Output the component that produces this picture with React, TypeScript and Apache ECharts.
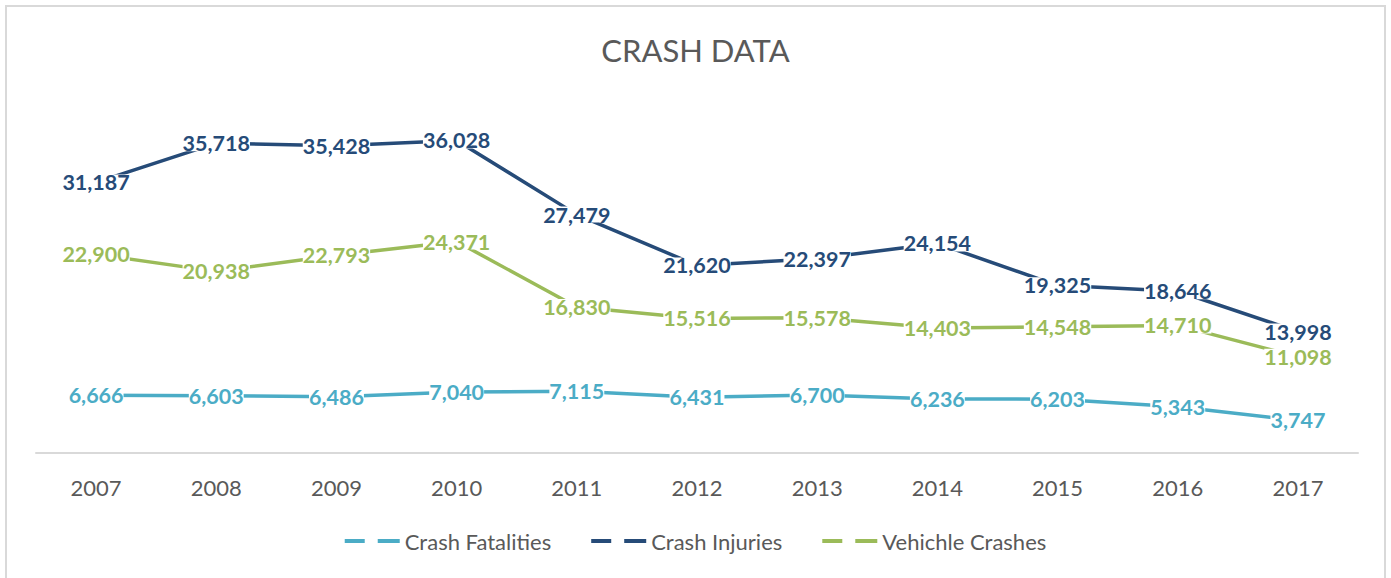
import React, { useEffect, useRef } from "react";
import * as echarts from "echarts";

const years = ["2007", "2008", "2009", "2010", "2011", "2012", "2013", "2014", "2015", "2016", "2017"];
const crashFatalities = [6666, 6603, 6486, 7040, 7115, 6431, 6700, 6236, 6203, 5343, 3747];
const crashInjuries = [31187, 35718, 35428, 36028, 27479, 21620, 22397, 24154, 19325, 18646, 13998];
const vehicleCrashes = [22900, 20938, 22793, 24371, 16830, 15516, 15578, 14403, 14548, 14710, 11098];

const FONT = "Lato, 'Open Sans', sans-serif";
const legendIcon = "path://M0,0h20v4h-20z M33,0h22v4h-22z";

function makeSeries(name: string, data: number[], color: string) {
  return {
    name,
    type: "line",
    data,
    symbol: "circle",
    symbolSize: 0,
    showSymbol: true,
    lineStyle: { color, width: 3.5 },
    itemStyle: { color },
    label: {
      show: true,
      position: "inside",
      color,
      fontFamily: FONT,
      fontWeight: "bold",
      fontSize: 21.5,
      backgroundColor: "#ffffff",
      padding: 0,
      lineHeight: 16,
      formatter: (p: any) => Number(p.value).toLocaleString("en-US"),
    },
  };
}

export default function App() {
  const ref = useRef<HTMLDivElement>(null);
  useEffect(() => {
    if (!ref.current) return;
    const chart = echarts.init(ref.current, undefined, { renderer: "svg" });
    chart.setOption({
      animation: false,
      backgroundColor: "#ffffff",
      title: {
        text: "CRASH DATA",
        left: "center",
        top: 29,
        textStyle: { color: "#595959", fontFamily: FONT, fontWeight: "normal", fontSize: 31 },
      },
      graphic: [
        {
          type: "rect",
          shape: { x: 6, y: 6, width: 1379, height: 600 },
          style: { fill: "none", stroke: "#D9D9D9", lineWidth: 2 },
          silent: true,
        },
      ],
      legend: {
        top: 525,
        left: "center",
        itemGap: 40,
        itemWidth: 55,
        itemHeight: 4,
        icon: legendIcon,
        textStyle: { color: "#595959", fontFamily: FONT, fontSize: 22 },
        data: ["Crash Fatalities", "Crash Injuries", "Vehichle Crashes"],
      },
      grid: { left: 36, right: 33, top: 106, height: 347 },
      xAxis: {
        type: "category",
        data: years,
        boundaryGap: true,
        axisLine: { lineStyle: { color: "#D9D9D9", width: 2 } },
        axisTick: { show: false },
        axisLabel: { color: "#595959", fontFamily: FONT, fontSize: 22, margin: 23 },
      },
      yAxis: {
        type: "value",
        min: 0,
        max: 40000,
        interval: 5000,
        show: false,
        splitLine: { show: false },
      },
      series: [
        makeSeries("Crash Fatalities", crashFatalities, "#4BACC6"),
        makeSeries("Crash Injuries", crashInjuries, "#264B78"),
        makeSeries("Vehichle Crashes", vehicleCrashes, "#9BBB59"),
      ],
    });
    return () => chart.dispose();
  }, []);
  return (
    <div
      ref={ref}
      style={{ position: "fixed", left: 0, top: 0, width: 1391, height: 578 }}
    />
  );
}
